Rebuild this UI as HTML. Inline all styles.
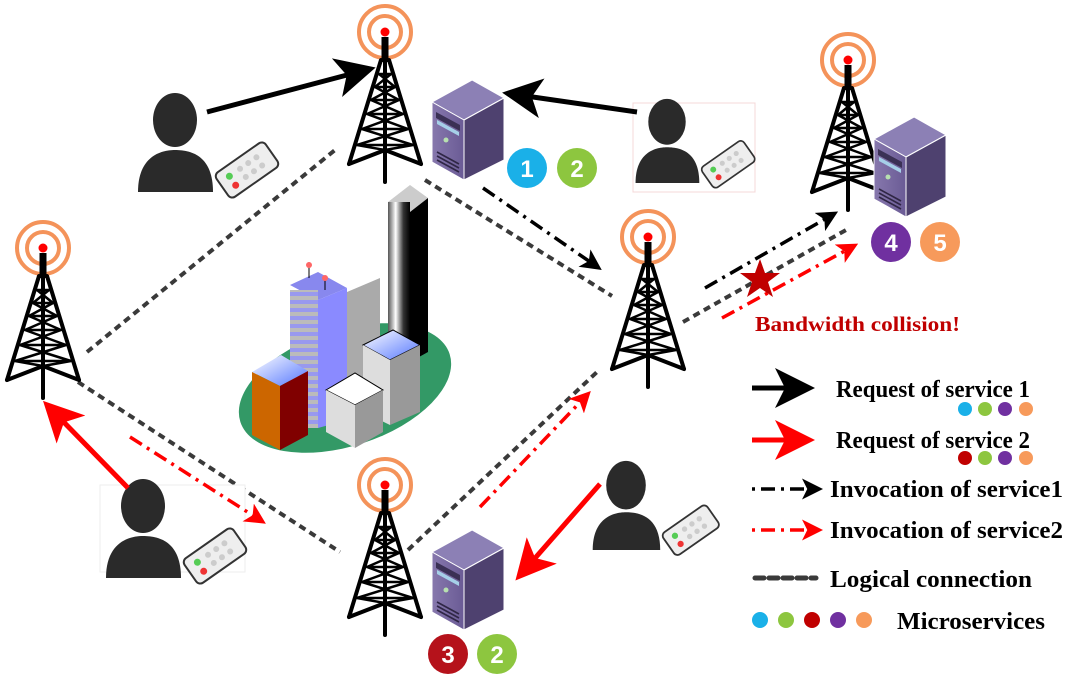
<!DOCTYPE html>
<html><head><meta charset="utf-8"><style>
html,body{margin:0;padding:0;background:#fff;}
svg{display:block;}
.lg{font-family:"Liberation Serif",serif;font-weight:bold;fill:#000;}
</style></head><body>
<svg width="1071" height="677" viewBox="0 0 1071 677" xmlns="http://www.w3.org/2000/svg">
<defs>
<marker id="ab" markerWidth="6" markerHeight="6" refX="4" refY="3" orient="auto" markerUnits="strokeWidth"><path d="M0,0 L6,3 L0,6 L1.5,3 z" fill="#000"/></marker>
<marker id="ar" markerWidth="6" markerHeight="6" refX="4" refY="3" orient="auto" markerUnits="strokeWidth"><path d="M0,0 L6,3 L0,6 L1.5,3 z" fill="#f00"/></marker>
<marker id="abs" markerWidth="8" markerHeight="8" refX="6" refY="4" orient="auto" markerUnits="strokeWidth"><path d="M0,0 L8,4 L0,8 L2,4 z" fill="#000"/></marker>
<marker id="ars" markerWidth="8" markerHeight="8" refX="6" refY="4" orient="auto" markerUnits="strokeWidth"><path d="M0,0 L8,4 L0,8 L2,4 z" fill="#f00"/></marker>
<symbol id="tower" viewBox="-45 -30 90 185" width="90" height="185" overflow="visible">
<circle cx="0" cy="0" r="26" fill="none" stroke="#f4935a" stroke-width="4"/>
<circle cx="0" cy="0" r="16" fill="none" stroke="#f4935a" stroke-width="4"/>
<circle cx="0" cy="0" r="4.5" fill="#f00"/>
<rect x="-3.5" y="5" width="7" height="25" fill="#000"/>
<g stroke="#000" stroke-width="4" fill="none" stroke-linecap="round">
<path d="M-4,28 L-36,132 M4,28 L36,132 M0,28 L0,150"/>
<path d="M-36,132 L0,118 L36,132"/>
<path stroke-width="2.5" d="M-7,42 L7,42 M-10,55 L10,55 M-14,68 L14,68 M-18,82 L18,82 M-23,97 L23,97 M-28,113 L28,113
M-6,42 L10,55 M6,42 L-10,55 M-10,55 L14,68 M10,55 L-14,68 M-14,68 L18,82 M14,68 L-18,82 M-18,82 L23,97 M18,82 L-23,97 M-23,97 L28,113 M23,97 L-28,113 M-28,113 L0,118 M28,113 L0,118"/>
</g>
</symbol>
<linearGradient id="srvF" x1="0" y1="0" x2="1" y2="0"><stop offset="0" stop-color="#8778ad"/><stop offset="1" stop-color="#6a5b95"/></linearGradient>
<symbol id="server" viewBox="0 0 72 100" width="72" height="100" overflow="visible">
<polygon points="0,22 40,0 72,18 32,40" fill="#8c80b5" stroke="#fff" stroke-width="1"/>
<polygon points="0,22 32,40 32,100 0,82" fill="url(#srvF)" stroke="#fff" stroke-width="1"/>
<polygon points="32,40 72,18 72,80 32,100" fill="#4e416f" stroke="#fff" stroke-width="1"/>
<polygon points="4,32 28,45 28,51 4,38" fill="#3b3155"/>
<polygon points="5,40 27,52 27,56 5,44" fill="#a6d0e8"/>
<circle cx="14" cy="60" r="2.5" fill="#b7e0b0"/>
<path d="M5,72 L27,84 M5,76 L27,88 M5,80 L27,92" stroke="#2f2645" stroke-width="1.6"/>
</symbol>
<symbol id="person" viewBox="0 0 150 100" width="150" height="100" overflow="visible">
<ellipse cx="40" cy="28" rx="22" ry="27" fill="#2a2a2a"/>
<path d="M3,100 C3,65 25,58 40,58 C58,58 78,65 78,100 z" fill="#2a2a2a"/>
<g transform="translate(112,78) rotate(-35)">
<rect x="-30" y="-15" width="60" height="30" rx="5" fill="#eee" stroke="#333" stroke-width="2"/>
<circle cx="-18" cy="-5" r="3.5" fill="#5c5"/><circle cx="-18" cy="6" r="3.5" fill="#e33"/>
<g fill="#ccc"><circle cx="-5" cy="-5" r="3"/><circle cx="5" cy="-5" r="3"/><circle cx="15" cy="-5" r="3"/><circle cx="-5" cy="5" r="3"/><circle cx="5" cy="5" r="3"/><circle cx="15" cy="5" r="3"/></g>
</g>
</symbol>
<linearGradient id="blk" x1="0" x2="1"><stop offset="0" stop-color="#555"/><stop offset="0.35" stop-color="#fff"/><stop offset="0.7" stop-color="#333"/><stop offset="1" stop-color="#000"/></linearGradient>
<linearGradient id="bt" x1="0" y1="0" x2="1" y2="1"><stop offset="0" stop-color="#fff"/><stop offset="1" stop-color="#5577ff"/></linearGradient>
<pattern id="stripe" width="10" height="8" patternUnits="userSpaceOnUse"><rect width="10" height="8" fill="#9999ee"/><rect width="10" height="4" fill="#bbbbbb"/></pattern>
</defs>

<g stroke="#3a3a3a" stroke-width="4" stroke-dasharray="7,5" fill="none">
<line x1="87" y1="352" x2="335" y2="150"/>
<line x1="425" y1="180" x2="612" y2="296"/>
<line x1="78" y1="382" x2="340" y2="552"/>
<line x1="408" y1="550" x2="597" y2="372"/>
<line x1="683" y1="322" x2="846" y2="230"/>
</g>

<ellipse cx="345" cy="388" rx="110" ry="58" transform="rotate(-18 345 388)" fill="#339966"/>
<polygon points="388,202 410,185 428,198 410,212" fill="#ccc"/>
<rect x="388" y="202" width="22" height="160" fill="url(#blk)"/>
<polygon points="410,212 428,198 428,352 410,362" fill="#000"/>
<polygon points="347,292 380,278 380,415 347,428" fill="#aaa"/>
<polygon points="290,285 318,272 347,288 318,300" fill="#8888ee"/>
<rect x="290" y="290" width="28" height="138" fill="url(#stripe)"/>
<polygon points="318,300 347,288 347,420 318,428" fill="#8a8aff"/>
<line x1="309" y1="262" x2="309" y2="278" stroke="#000"/><circle cx="309" cy="265" r="3" fill="#f66"/>
<line x1="325" y1="276" x2="325" y2="290" stroke="#000"/><circle cx="325" cy="278" r="3" fill="#f66"/>
<polygon points="363,345 393,330 420,345 390,360" fill="url(#bt)" stroke="#000"/>
<polygon points="363,345 390,360 390,425 363,412" fill="#ddd"/>
<polygon points="390,360 420,345 420,412 390,425" fill="#999"/>
<polygon points="326,390 355,373 383,390 355,405" fill="#fff" stroke="#000"/>
<polygon points="326,390 355,405 355,448 326,432" fill="#ddd"/>
<polygon points="355,405 383,390 383,432 355,448" fill="#999"/>
<polygon points="252,372 281,355 308,371 280,386" fill="url(#bt)"/>
<polygon points="252,372 280,386 280,450 252,435" fill="#cc6600"/>
<polygon points="280,386 308,371 308,435 280,450" fill="#800000"/>

<use href="#tower" x="340" y="2" width="90" height="185"/>
<use href="#tower" x="-2" y="218" width="90" height="185"/>
<use href="#tower" x="603" y="207" width="90" height="185"/>
<use href="#tower" x="803" y="30" width="90" height="185"/>
<use href="#tower" x="340" y="455" width="90" height="185"/>

<use href="#server" x="432" y="80" width="72" height="100"/>
<use href="#server" x="432" y="530" width="72" height="100"/>
<use href="#server" x="874" y="117" width="72" height="100"/>

<g font-family="Liberation Sans,sans-serif" font-weight="bold" font-size="24" fill="#fff" text-anchor="middle">
<circle cx="527" cy="168" r="20" fill="#1ab0e8"/><text x="527" y="177">1</text>
<circle cx="577" cy="168" r="20" fill="#8dc63f"/><text x="577" y="177">2</text>
<circle cx="448" cy="654" r="20" fill="#b5121b"/><text x="448" y="663">3</text>
<circle cx="497" cy="654" r="20" fill="#8dc63f"/><text x="497" y="663">2</text>
<circle cx="891" cy="242" r="20" fill="#7030a0"/><text x="891" y="251">4</text>
<circle cx="940" cy="242" r="20" fill="#f79a5b"/><text x="940" y="251">5</text>
</g>

<rect x="633" y="103" width="122" height="89" fill="#fff" stroke="#f4d8d8"/>
<rect x="100" y="485" width="145" height="87" fill="#fff" stroke="#eee"/>
<use href="#person" x="135" y="92" width="150" height="100"/>
<use href="#person" x="633" y="98" width="150" height="100" transform="translate(633 98) scale(0.85) translate(-633 -98)"/>
<use href="#person" x="103" y="478" width="150" height="100"/>
<use href="#person" x="590" y="460" width="150" height="100" transform="translate(590 460) scale(0.9) translate(-590 -460)"/>

<g stroke-width="5" fill="none">
<line x1="207" y1="112" x2="366" y2="70" stroke="#000" marker-end="url(#abs)"/>
<line x1="637" y1="112" x2="512" y2="94" stroke="#000" marker-end="url(#abs)"/>
<line x1="128" y1="488" x2="50" y2="408" stroke="#f00" marker-end="url(#ars)"/>
<line x1="600" y1="484" x2="522" y2="573" stroke="#f00" marker-end="url(#ars)"/>
</g>
<g stroke-width="3.5" fill="none" stroke-dasharray="14,6,3,6">
<line x1="483" y1="188" x2="596" y2="266" stroke="#000" marker-end="url(#ab)"/>
<line x1="705" y1="288" x2="832" y2="215" stroke="#000" marker-end="url(#ab)"/>
<line x1="130" y1="437" x2="260" y2="520" stroke="#f00" marker-end="url(#ar)"/>
<line x1="480" y1="507" x2="586" y2="396" stroke="#f00" marker-end="url(#ar)"/>
<line x1="722" y1="318" x2="852" y2="247" stroke="#f00" marker-end="url(#ar)"/>
</g>
<polygon points="760,259 765,273 780,273 768,282 773,297 760,288 747,297 752,282 740,273 755,273" fill="#c00000"/>
<text x="755" y="331" font-family="Liberation Serif,serif" font-weight="bold" font-size="21" fill="#c00000" textLength="205" lengthAdjust="spacingAndGlyphs">Bandwidth collision!</text>

<line x1="752" y1="388" x2="805" y2="388" stroke="#000" stroke-width="5" marker-end="url(#abs)"/>
<text class="lg" x="836" y="397" font-size="24" textLength="194" lengthAdjust="spacingAndGlyphs">Request of service 1</text>
<circle cx="965" cy="409" r="7" fill="#1ab0e8"/><circle cx="985" cy="409" r="7" fill="#8dc63f"/><circle cx="1005" cy="409" r="7" fill="#7030a0"/><circle cx="1026" cy="409" r="7" fill="#f79a5b"/>
<line x1="752" y1="440" x2="805" y2="440" stroke="#f00" stroke-width="5" marker-end="url(#ars)"/>
<text class="lg" x="836" y="448" font-size="24" textLength="194" lengthAdjust="spacingAndGlyphs">Request of service 2</text>
<circle cx="965" cy="458" r="7" fill="#c00000"/><circle cx="985" cy="458" r="7" fill="#8dc63f"/><circle cx="1005" cy="458" r="7" fill="#7030a0"/><circle cx="1026" cy="458" r="7" fill="#f79a5b"/>
<line x1="752" y1="489" x2="816" y2="489" stroke="#000" stroke-width="3.5" stroke-dasharray="3,6,14,6" marker-end="url(#ab)"/>
<text class="lg" x="830" y="497" font-size="24" textLength="233" lengthAdjust="spacingAndGlyphs">Invocation of service1</text>
<line x1="752" y1="530" x2="816" y2="530" stroke="#f00" stroke-width="3.5" stroke-dasharray="3,6,14,6" marker-end="url(#ar)"/>
<text class="lg" x="830" y="538" font-size="24" textLength="233" lengthAdjust="spacingAndGlyphs">Invocation of service2</text>
<line x1="755" y1="578" x2="816" y2="578" stroke="#3a3a3a" stroke-width="5" stroke-dasharray="9,5" stroke-linecap="round"/>
<text class="lg" x="830" y="587" font-size="24" textLength="202" lengthAdjust="spacingAndGlyphs">Logical connection</text>
<circle cx="760" cy="620" r="8" fill="#1ab0e8"/><circle cx="786" cy="620" r="8" fill="#8dc63f"/><circle cx="812" cy="620" r="8" fill="#c00000"/><circle cx="838" cy="620" r="8" fill="#7030a0"/><circle cx="864" cy="620" r="8" fill="#f79a5b"/>
<text class="lg" x="897" y="629" font-size="24" textLength="148" lengthAdjust="spacingAndGlyphs">Microservices</text>
</svg>
</body></html>
